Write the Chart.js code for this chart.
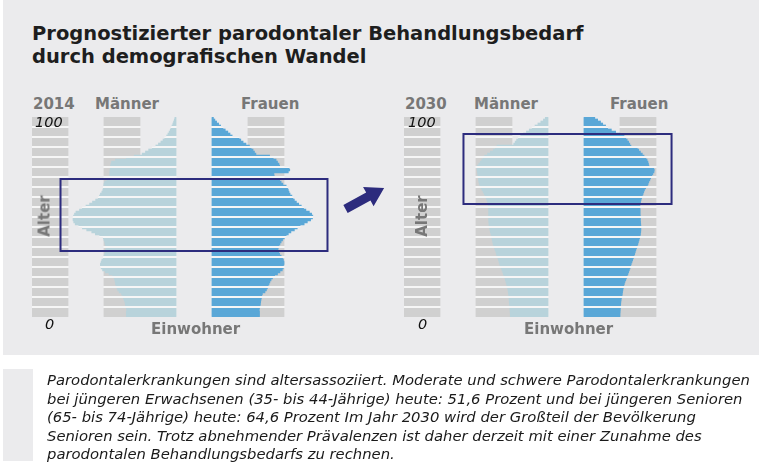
<!DOCTYPE html>
<html lang="de">
<head>
    <meta charset="UTF-8">
    <title>Prognostizierter parodontaler Behandlungsbedarf</title>
    <script src="https://cdn.jsdelivr.net/npm/chart.js"></script>
    <style>
        body {
            margin: 0;
            width: 759px;
            height: 466px;
            background: #ffffff;
            font-family: "DejaVu Sans", Verdana, sans-serif;
            position: relative;
            overflow: hidden;
        }
        .panel {
            position: absolute;
            left: 3px;
            top: 0;
            width: 756px;
            height: 355px;
            background: #ebebed;
        }
        .title {
            position: absolute;
            left: 32px;
            top: 22px;
            font-size: 19.5px;
            line-height: 23px;
            font-weight: bold;
            color: #1e1e1e;
            white-space: nowrap;
        }
        .lbl {
            position: absolute;
            font-size: 15px;
            line-height: 15px;
            font-weight: bold;
            color: #777777;
            white-space: nowrap;
        }
        .num {
            position: absolute;
            font-size: 14.5px;
            line-height: 14.5px;
            font-style: italic;
            color: #111111;
        }
        .alter {
            position: absolute;
            font-size: 15px;
            line-height: 15px;
            font-weight: bold;
            color: #777777;
            transform: translate(-50%, -50%) rotate(-90deg);
        }
        canvas {
            position: absolute;
        }
        .note-bar {
            position: absolute;
            left: 3px;
            top: 369px;
            width: 30px;
            height: 92px;
            background: #ebebed;
        }
        .note {
            position: absolute;
            left: 47px;
            top: 371px;
            font-size: 14.8px;
            line-height: 18.5px;
            font-style: italic;
            color: #1a1a1a;
            white-space: nowrap;
        }
    </style>
</head>
<body>
    <div class="panel"></div>
    <div class="title">Prognostizierter parodontaler Behandlungsbedarf<br>durch demografischen Wandel</div>

    <div class="lbl" style="left:33px; top:97px;">2014</div>
    <div class="lbl" style="left:95px; top:97px;">Männer</div>
    <div class="lbl" style="left:241px; top:97px;">Frauen</div>
    <div class="lbl" style="left:405px; top:97px;">2030</div>
    <div class="lbl" style="left:474px; top:97px;">Männer</div>
    <div class="lbl" style="left:610px; top:97px;">Frauen</div>

    <canvas id="chart2014" width="306" height="200" style="left:32px; top:117px;"></canvas>
    <canvas id="chart2030" width="306" height="200" style="left:404px; top:117px;"></canvas>

    <div class="num" style="left:35px; top:115px;">100</div>
    <div class="num" style="left:408px; top:115px;">100</div>
    <div class="num" style="left:45px; top:317px;">0</div>
    <div class="num" style="left:418px; top:317px;">0</div>
    <div class="alter" style="left:45px; top:216px;">Alter</div>
    <div class="alter" style="left:422px; top:216px;">Alter</div>
    <div class="lbl" style="left:151px; top:322px;">Einwohner</div>
    <div class="lbl" style="left:524px; top:322px;">Einwohner</div>

    <svg width="759" height="466" style="position:absolute; left:0; top:0; pointer-events:none;">
        <polygon points="0,-4.5 26,-4.5 26,-11 44,0 26,11 26,4.5 0,4.5"
                 fill="#2c2b7d" transform="translate(345.5,209) rotate(-28.6)"/>
    </svg>

    <div class="note-bar"></div>
    <div class="note">Parodontalerkrankungen sind altersassoziiert. Moderate und schwere Parodontalerkrankungen<br>bei jüngeren Erwachsenen (35- bis 44-Jährige) heute: 51,6 Prozent und bei jüngeren Senioren<br>(65- bis 74-Jährige) heute: 64,6 Prozent Im Jahr 2030 wird der Großteil der Bevölkerung<br>Senioren sein. Trotz abnehmender Prävalenzen ist daher derzeit mit einer Zunahme des<br>parodontalen Behandlungsbedarfs zu rechnen.</div>

    <script>
        // Alter 0..99, Einwohner in Tausend je Altersjahr
        const ages = Array.from({ length: 100 }, (_, i) => i);

        const maenner2014 = [
            345, 345, 345, 342, 345, 350, 352, 355, 360, 365,
            370, 378, 395, 405, 410, 415, 420, 422, 425, 430,
            440, 465, 490, 510, 520, 525, 525, 520, 515, 505,
            500, 495, 490, 490, 485, 488, 492, 495, 500, 505,
            530, 560, 585, 620, 650, 675, 700, 710, 715, 715,
            712, 705, 695, 670, 650, 625, 600, 580, 558, 540,
            532, 525, 515, 508, 505, 502, 500, 495, 480, 465,
            460, 460, 460, 458, 456, 455, 452, 448, 420, 345,
            290, 235, 212, 190, 165, 140, 122, 105, 90, 78,
            65, 56, 48, 40, 34, 28, 22, 17, 12, 8
        ];
        const frauen2014 = [
            330, 330, 330, 328, 330, 334, 336, 338, 340, 343,
            345, 350, 368, 378, 385, 390, 396, 402, 410, 420,
            435, 455, 472, 488, 495, 496, 500, 500, 496, 490,
            480, 470, 463, 458, 460, 465, 472, 480, 490, 502,
            515, 530, 548, 572, 592, 612, 640, 662, 685, 698,
            700, 692, 676, 652, 636, 620, 602, 586, 572, 562,
            555, 542, 535, 530, 525, 515, 492, 480, 470, 455,
            432, 430, 530, 540, 535, 470, 465, 455, 445, 425,
            400, 305, 295, 285, 272, 260, 236, 216, 200, 188,
            140, 125, 110, 92, 76, 60, 46, 32, 20, 10
        ];
        const maenner2030 = [
            262, 262, 263, 264, 265, 266, 268, 269, 270, 271,
            272, 274, 276, 278, 281, 284, 288, 292, 296, 300,
            305, 310, 315, 320, 326, 332, 336, 340, 344, 348,
            354, 358, 362, 367, 372, 377, 381, 384, 387, 390,
            392, 396, 400, 403, 406, 408, 410, 411, 412, 412,
            412, 412, 412, 412, 413, 414, 416, 419, 424, 430,
            436, 443, 450, 458, 466, 472, 476, 480, 482, 484,
            486, 488, 490, 492, 493, 490, 480, 470, 460, 450,
            440, 420, 400, 380, 365, 354, 238, 228, 218, 205,
            190, 170, 150, 130, 110, 90, 70, 50, 32, 19
        ];
        const frauen2030 = [
            250, 250, 251, 252, 253, 254, 255, 256, 258, 260,
            264, 266, 268, 270, 273, 276, 280, 284, 290, 295,
            300, 305, 310, 315, 320, 324, 328, 333, 338, 343,
            347, 352, 356, 360, 365, 370, 374, 378, 382, 386,
            390, 392, 394, 395, 395, 395, 394, 393, 392, 392,
            391, 390, 390, 390, 389, 388, 390, 393, 396, 400,
            405, 410, 415, 420, 428, 440, 445, 450, 457, 463,
            470, 478, 486, 488, 484, 451, 448, 444, 438, 430,
            417, 405, 392, 380, 370, 326, 318, 310, 300, 290,
            278, 250, 220, 190, 165, 150, 130, 115, 95, 75
        ];

        // markierte Altersbereiche (Alter von/bis, Einwohner-Achse von/bis)
        const box2014Ages = [33, 69];
        const box2014Range = [-927, 927];
        const box2030Ages = [56.5, 91.5];
        const box2030Range = [-712, 733];

        const GAP = 125;            // halber Abstand zwischen Männer- und Frauen-Achse
        const MALE = '#b8d3db';
        const FEMALE = '#5aa7d7';
        const GRAY = '#d0d0d0';

        // weiße Trennlinien alle 5 Jahre, nur auf bereits gezeichneten Flächen
        const stripes = {
            id: 'stripes',
            afterDatasetsDraw(chart) {
                const { ctx, chartArea, scales } = chart;
                ctx.save();
                ctx.globalCompositeOperation = 'source-atop';
                ctx.fillStyle = '#f6f6f6';
                for (let a = 5; a < 100; a += 5) {
                    const y = scales.y.getPixelForValue(a - 0.5);
                    ctx.fillRect(chartArea.left, y - 1, chartArea.width, 2);
                }
                ctx.restore();
            }
        };

        const kasten = {
            id: 'kasten',
            afterDraw(chart, args, opts) {
                const { ctx, scales } = chart;
                const x1 = scales.x.getPixelForValue(opts.range[0]);
                const x2 = scales.x.getPixelForValue(opts.range[1]);
                const y1 = scales.y.getPixelForValue(opts.ages[1] - 0.5);
                const y2 = scales.y.getPixelForValue(opts.ages[0] - 0.5);
                ctx.save();
                ctx.strokeStyle = '#2d2c7e';
                ctx.lineWidth = 2;
                ctx.strokeRect(x1, y1, x2 - x1, y2 - y1);
                ctx.restore();
            }
        };

        function band(from, to) {
            return ages.map(() => [from, to]);
        }

        function pyramid(id, male, female, boxAges, boxRange) {
            const bar = { barPercentage: 1, categoryPercentage: 1, grouped: false, borderWidth: 0 };
            return new Chart(document.getElementById(id), {
                type: 'bar',
                data: {
                    labels: ages,
                    datasets: [
                        { label: 'Männer', data: male.map(v => [-GAP - v, -GAP]), backgroundColor: MALE, order: 0, ...bar },
                        { label: 'Frauen', data: female.map(v => [GAP, GAP + v]), backgroundColor: FEMALE, order: 0, ...bar },
                        { label: 'Alter', data: band(-1125, -875), backgroundColor: GRAY, order: 1, ...bar },
                        { label: 'Raster M', data: band(-625, -375), backgroundColor: GRAY, order: 1, ...bar },
                        { label: 'Raster F', data: band(375, 625), backgroundColor: GRAY, order: 1, ...bar }
                    ]
                },
                options: {
                    indexAxis: 'y',
                    responsive: false,
                    animation: false,
                    layout: { padding: 0 },
                    scales: {
                        x: { type: 'linear', min: -1125, max: 1000, display: false },
                        y: { reverse: true, display: false }
                    },
                    plugins: {
                        legend: { display: false },
                        tooltip: { enabled: false },
                        kasten: { ages: boxAges, range: boxRange }
                    }
                },
                plugins: [stripes, kasten]
            });
        }

        pyramid('chart2014', maenner2014, frauen2014, box2014Ages, box2014Range);
        pyramid('chart2030', maenner2030, frauen2030, box2030Ages, box2030Range);
    </script>
</body>
</html>
